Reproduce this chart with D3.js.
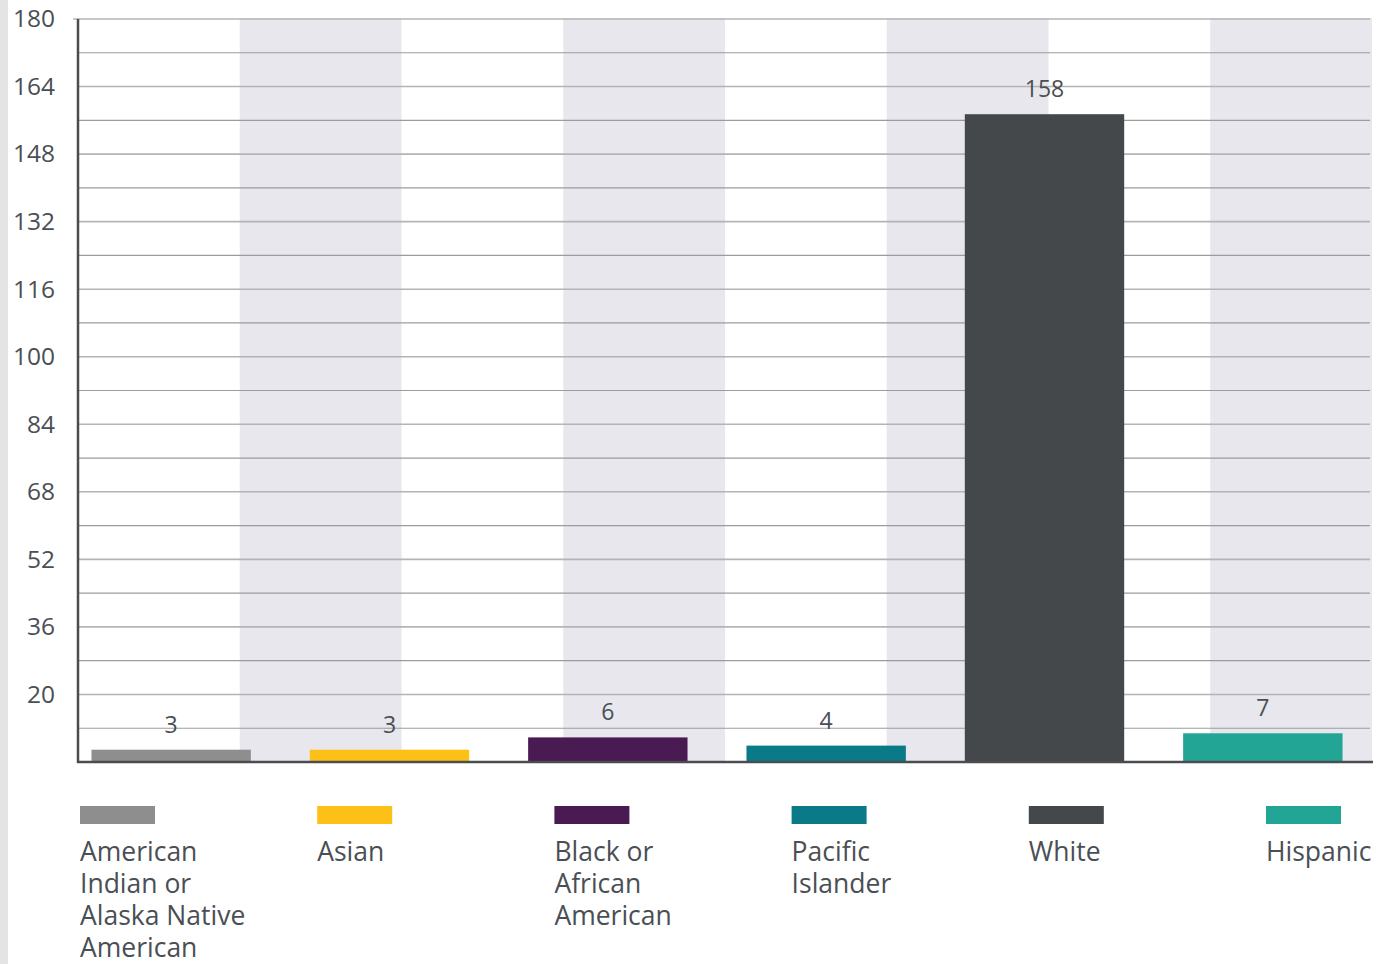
<!DOCTYPE html>
<html>
<head>
<meta charset="utf-8">
<script src="https://cdn.jsdelivr.net/npm/d3@7/dist/d3.min.js"></script>
<style>
  html, body { margin: 0; padding: 0; background: #fff; }
  svg { display: block; font-family: "Open Sans", "Noto Sans", sans-serif; }
</style>
</head>
<body>
<svg id="chart" width="1387" height="964"></svg>
<script>
const categories = ["American Indian or Alaska Native American", "Asian", "Black or African American", "Pacific Islander", "White", "Hispanic"];
const values = [3, 3, 6, 4, 158, 7];
const colors = ["#8e8e8e", "#fdc016", "#4a1a52", "#0b7a88", "#44484b", "#23a595"];
const yTickLabels = [180, 164, 148, 132, 116, 100, 84, 68, 52, 36, 20];

(function () {
const svg = d3.select("#chart");
const W = 1387, H = 964;
const plotLeft = 78, plotRight = 1372, plotTop = 19, base = 762;
const textColor = "#4a4f55";

// left light strip
svg.append("rect").attr("x", 0).attr("y", 0).attr("width", 8).attr("height", H).attr("fill", "#e4e4e4");

// alternating background bands
const bandX = d3.scaleBand().domain(d3.range(8)).range([plotLeft, plotRight]);
svg.append("g").selectAll("rect").data(d3.range(8).filter(i => i % 2 === 1)).join("rect")
  .attr("x", d => bandX(d)).attr("y", plotTop - 1)
  .attr("width", bandX.bandwidth()).attr("height", base - plotTop + 1)
  .attr("fill", "#e7e7ed");

// axis scale
const y = d3.scaleLinear().domain([4, 180]).range([base, plotTop]);
// grid lines every 8
const gridVals = d3.range(12, 181, 8);
svg.append("g").selectAll("line").data(gridVals).join("line")
  .attr("x1", d => d === 180 ? plotLeft - 5 : plotLeft).attr("x2", plotRight - 2)
  .attr("y1", d => y(d)).attr("y2", d => y(d))
  .attr("stroke", d => yTickLabels.includes(d) ? "#b4b4b4" : "#9c9c9c")
  .attr("stroke-width", d => yTickLabels.includes(d) ? 1.6 : 1.2);

// y axis labels
const yAxis = d3.axisLeft(y).tickValues(yTickLabels).tickSize(0).tickPadding(23);
const gAxis = svg.append("g").attr("transform", `translate(${plotLeft},0)`).call(yAxis);
gAxis.select(".domain").remove();
gAxis.selectAll("text").attr("font-size", 24.5).attr("fill", textColor)
  .attr("font-family", "\"Open Sans\", sans-serif");

// bars
const x = d3.scaleBand().domain(categories).range([62, 1372]).paddingInner(0.27).paddingOuter(0.135);
const yBar = d3.scaleLinear().domain([0, 180]).range([base, 24]);
svg.append("g").selectAll("rect").data(categories).join("rect")
  .attr("x", d => x(d)).attr("width", x.bandwidth())
  .attr("y", (d, i) => yBar(values[i]))
  .attr("height", (d, i) => base - yBar(values[i]))
  .attr("fill", (d, i) => colors[i]);

// value labels
svg.append("g").selectAll("text").data(categories).join("text")
  .attr("x", d => x(d) + x.bandwidth() / 2)
  .attr("y", (d, i) => yBar(values[i]) - 17)
  .attr("text-anchor", "middle").attr("font-size", 23).attr("fill", textColor)
  .text((d, i) => values[i]);

// axis lines
svg.append("line").attr("x1", plotLeft).attr("x2", plotLeft).attr("y1", plotTop).attr("y2", base + 1)
  .attr("stroke", "#4a4d50").attr("stroke-width", 2.5);
svg.append("line").attr("x1", plotLeft - 1).attr("x2", plotRight + 1).attr("y1", base).attr("y2", base)
  .attr("stroke", "#4a4d50").attr("stroke-width", 2.5);

// legend
const lx = d3.scalePoint().domain(categories).range([80, 1266]);
const lg = svg.append("g").selectAll("g").data(categories).join("g")
  .attr("transform", d => `translate(${lx(d)},806)`);
lg.append("rect").attr("width", 75).attr("height", 18).attr("fill", (d, i) => colors[i]);
lg.each(function(d) {
  const g = d3.select(this);
  const t = g.append("text").attr("font-size", 26.5).attr("fill", textColor).attr("y", 55);
  const words = d.split(" ");
  let line = [];
  let tspan = t.append("tspan").attr("x", 0).attr("dy", 0);
  words.forEach(w => {
    line.push(w);
    tspan.text(line.join(" "));
    if (tspan.node().getComputedTextLength() > 175 && line.length > 1) {
      line.pop();
      tspan.text(line.join(" "));
      line = [w];
      tspan = t.append("tspan").attr("x", 0).attr("dy", 32).text(w);
    }
  });
});
})();
</script>
</body>
</html>
